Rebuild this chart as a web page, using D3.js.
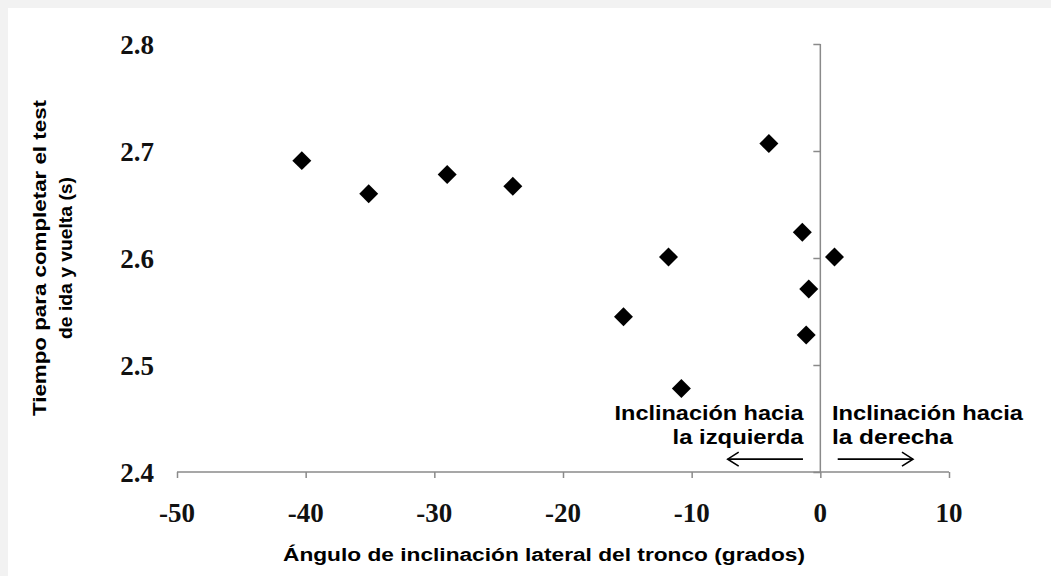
<!DOCTYPE html>
<html>
<head>
<meta charset="utf-8">
<script src="https://cdn.jsdelivr.net/npm/d3@7"></script>
<style>
  html, body { margin: 0; padding: 0; background: #f2f2f2; }
  svg { display: block; }
</style>
</head>
<body>
<div id="chart"></div>
<script>
// angulo de inclinacion (grados) vs tiempo (s)
var angulo = [-40.3, -35.1, -29.0, -23.9, -15.3, -11.8, -10.8, -4.0, -1.4, 1.1, -0.9, -1.1];
var tiempo = [2.691, 2.660, 2.678, 2.667, 2.545, 2.601, 2.478, 2.707, 2.624, 2.601, 2.571, 2.528];

var xTicks = [-50, -40, -30, -20, -10, 0, 10];
var yTicks = [2.4, 2.5, 2.6, 2.7, 2.8];

var xTitle = "Ángulo de inclinación lateral del tronco (grados)";
var yTitle = ["Tiempo para completar el test", "de ida y vuelta (s)"];
var notaIzq = ["Inclinación hacia", "la izquierda"];
var notaDer = ["Inclinación hacia", "la derecha"];

var width = 1051, height = 576;
var axisColor = "#8a8a8a";

var svg = d3.select("#chart").append("svg")
    .attr("width", width)
    .attr("height", height);

svg.append("rect")
    .attr("x", 8).attr("y", 8)
    .attr("width", width - 8).attr("height", height - 8)
    .attr("fill", "#fff");

var x = d3.scaleLinear().domain([-50, 10]).range([177, 949]);
var y = d3.scaleLinear().domain([2.4, 2.8]).range([472, 44]);

// eje x (abajo, en 2.4)
var gx = svg.append("g")
    .attr("transform", "translate(0," + y(2.4) + ")")
    .call(d3.axisBottom(x).tickValues(xTicks).tickSize(6).tickFormat(""));
gx.select(".domain").attr("stroke", axisColor).attr("stroke-width", 1.5)
    .attr("d", "M" + x(-50) + ",0H" + x(10));
gx.selectAll(".tick line").attr("stroke", axisColor).attr("stroke-width", 1.5);

svg.append("g").selectAll("text")
    .data(xTicks)
    .enter().append("text")
    .attr("x", function(d) { return x(d); })
    .attr("y", 522)
    .attr("text-anchor", "middle")
    .style("font-family", "'Liberation Serif', 'Times New Roman', serif")
    .style("font-weight", "bold")
    .style("font-size", "27px")
    .attr("fill", "#111")
    .text(function(d) { return d; });

// eje y (cruza en x = 0)
var gy = svg.append("g")
    .attr("transform", "translate(" + x(0) + ",0)")
    .call(d3.axisLeft(y).tickValues(yTicks).tickSize(7).tickFormat(""));
gy.select(".domain").attr("stroke", axisColor).attr("stroke-width", 1.5)
    .attr("d", "M0," + y(2.4) + "V" + y(2.8));
gy.selectAll(".tick line").attr("stroke", axisColor).attr("stroke-width", 1.5);

// etiquetas del eje y en posicion "baja" (a la izquierda)
svg.append("g").selectAll("text")
    .data(yTicks)
    .enter().append("text")
    .attr("x", 154)
    .attr("y", function(d) { return y(d) + 10; })
    .attr("text-anchor", "end")
    .style("font-family", "'Liberation Serif', 'Times New Roman', serif")
    .style("font-weight", "bold")
    .style("font-size", "27px")
    .attr("fill", "#111")
    .text(function(d) { return d.toFixed(1); });

// puntos
var diamond = d3.symbol().type(d3.symbolSquare).size(180);
svg.append("g").selectAll("path")
    .data(angulo)
    .enter().append("path")
    .attr("d", diamond)
    .attr("fill", "#000")
    .attr("transform", function(d, i) {
        return "translate(" + x(d) + "," + y(tiempo[i]) + ") rotate(45)";
    });

var sans = "'Liberation Sans', Arial, sans-serif";

// texto con ancho fijo, siempre anclado al inicio
function texto(g, str, x0, y0, len, size) {
    return g.append("text")
        .attr("x", x0).attr("y", y0)
        .attr("text-anchor", "start")
        .attr("textLength", len).attr("lengthAdjust", "spacingAndGlyphs")
        .style("font-family", sans).style("font-weight", "bold").style("font-size", size + "px")
        .text(str);
}

// titulo eje x
texto(svg, xTitle, 544 - 261, 561, 522, 18);

// titulo eje y
var yt = svg.append("g").attr("transform", "translate(0,258) rotate(-90)");
var yLen = [316, 162];
yTitle.forEach(function(d, i) {
    texto(yt, d, -yLen[i] / 2, 46 + i * 26, yLen[i], 18);
});

// notas
var notaY = [2.4486, 2.4262];
var izqLen = [189, 131];
notaIzq.forEach(function(d, i) {
    texto(svg, d, x(-1.3) - izqLen[i], y(notaY[i]), izqLen[i], 20);
});
var derLen = [191, 121];
notaDer.forEach(function(d, i) {
    texto(svg, d, x(0.9), y(notaY[i]), derLen[i], 20);
});

// flechas
var flechas = [{from: -1.35, to: -7.2}, {from: 1.35, to: 7.2}];
var flechaY = 2.412;
flechas.forEach(function(f) {
    var x1 = x(f.from), x2 = x(f.to), yy = y(flechaY);
    var dir = x2 > x1 ? 1 : -1;
    svg.append("line")
        .attr("x1", x1).attr("y1", yy).attr("x2", x2).attr("y2", yy)
        .attr("stroke", "#000").attr("stroke-width", 1.6);
    svg.append("path")
        .attr("d", "M" + (x2 - dir * 11) + "," + (yy - 7) + "L" + x2 + "," + yy + "L" + (x2 - dir * 11) + "," + (yy + 7))
        .attr("fill", "none").attr("stroke", "#000").attr("stroke-width", 1.6);
});
</script>
</body>
</html>
